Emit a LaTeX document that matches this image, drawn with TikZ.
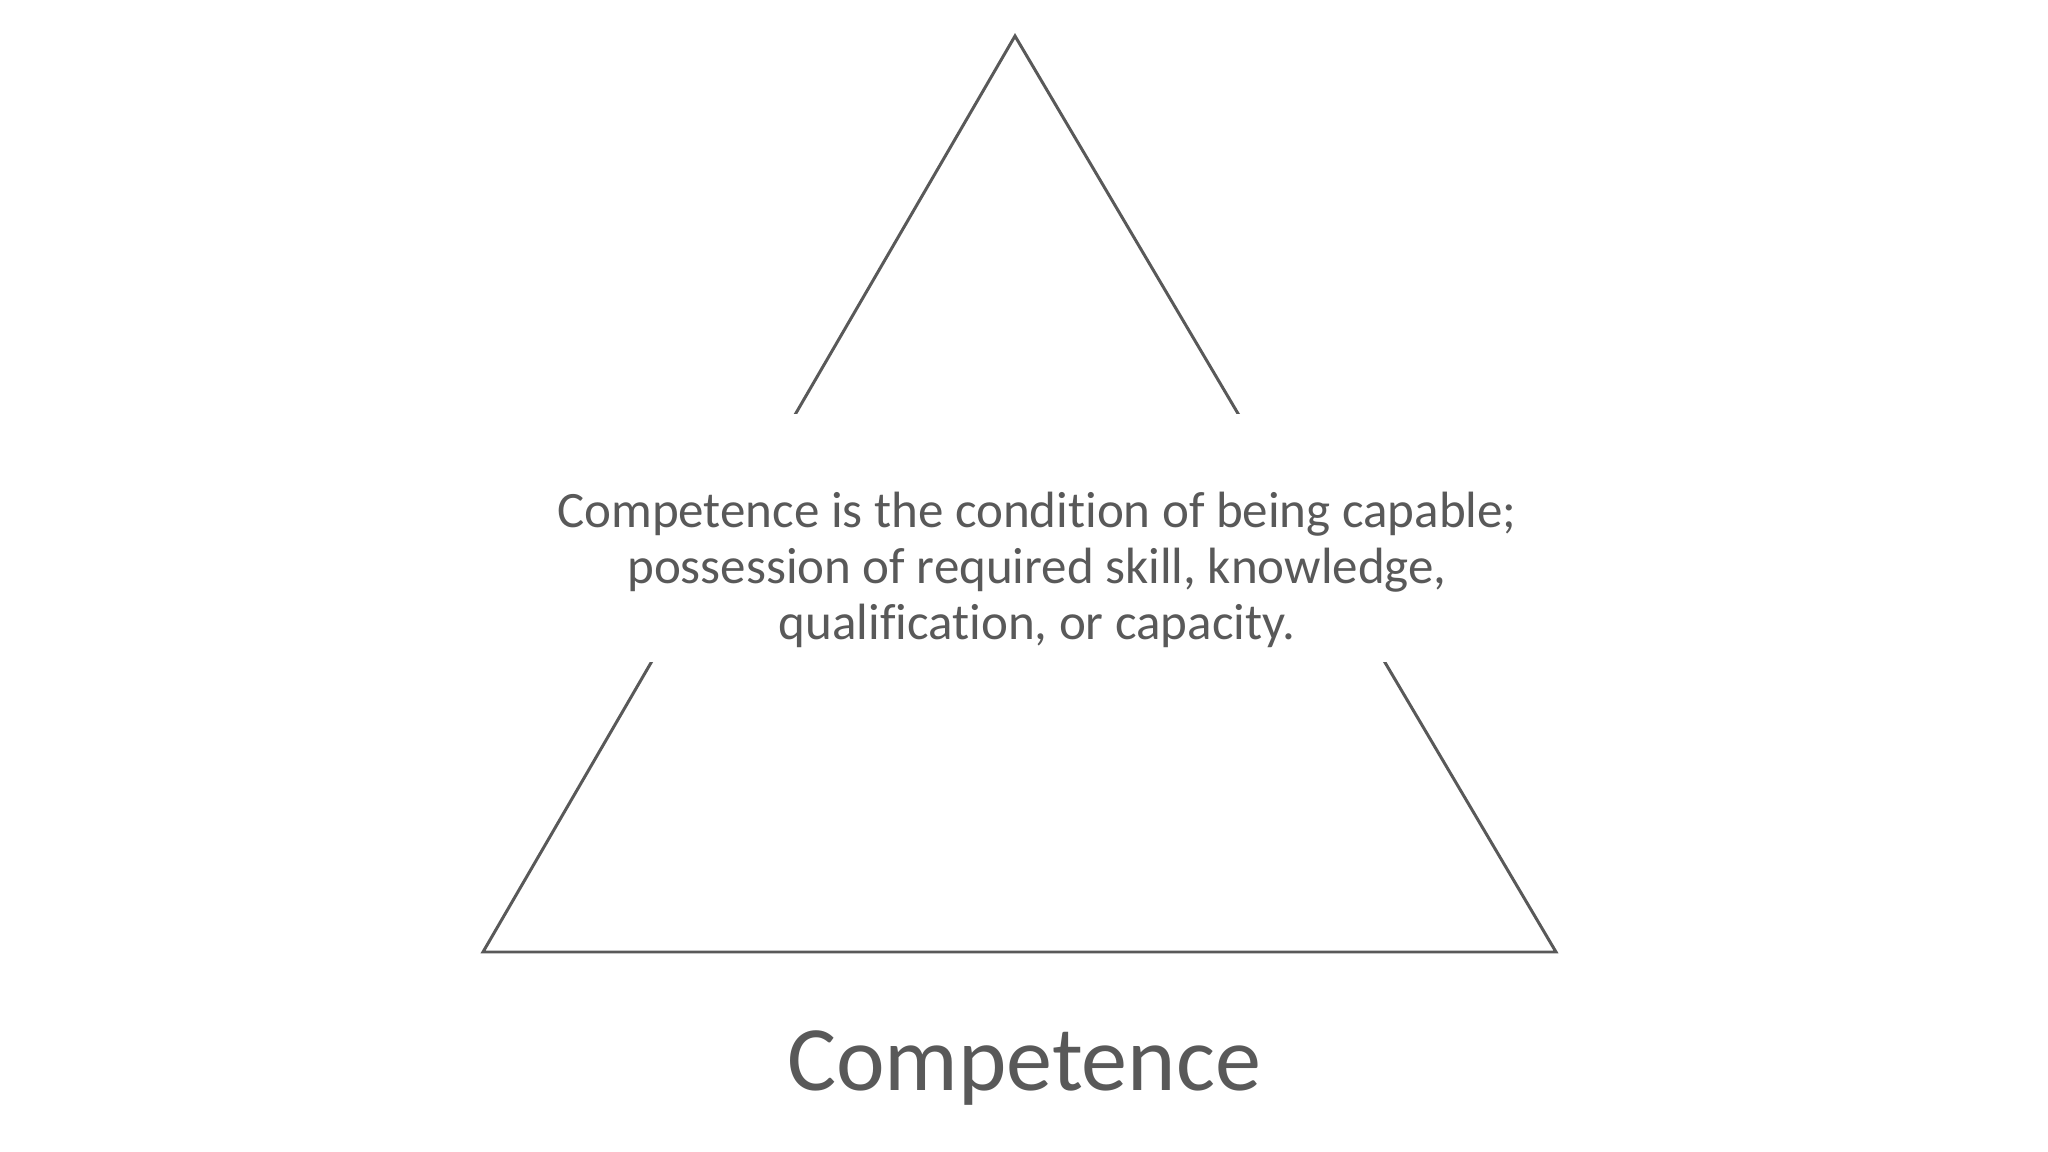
\documentclass[tikz,border=0pt]{standalone}
\usepackage{fontspec}
\setmainfont{Carlito}[RawFeature={-liga;-clig;-calt;-dlig}]
\definecolor{inkgray}{HTML}{595959}
\begin{document}
\begin{tikzpicture}[x=0.01cm, y=-0.01cm,
  edgeline/.style={draw=inkgray, line width=0.85pt, line join=miter},
  mask/.style={fill=white, inner sep=0pt, minimum width=8.8cm, minimum height=2.48cm},
  desc/.style={text=inkgray, align=center, font=\fontsize{14.5}{16}\selectfont},
  title/.style={text=inkgray, font=\fontsize{26.2}{31}\selectfont}]
 \useasboundingbox (0,0) rectangle (2048,1152);
 \coordinate (top) at (1015,36);
 \coordinate (left) at (483,952);
 \coordinate (right) at (1556,952);
 \draw[edgeline] (top) -- (right) -- (left) -- cycle;
 \node[mask] (box) at (1030,538) {};
 \node[desc] (def) at (1037,570) {Competence is the condition of being capable;\\possession of required skill, knowledge,\\qualification, or capacity.};
 \node[title] (name) at (1024,1068) {Competence};
\end{tikzpicture}
\end{document}
